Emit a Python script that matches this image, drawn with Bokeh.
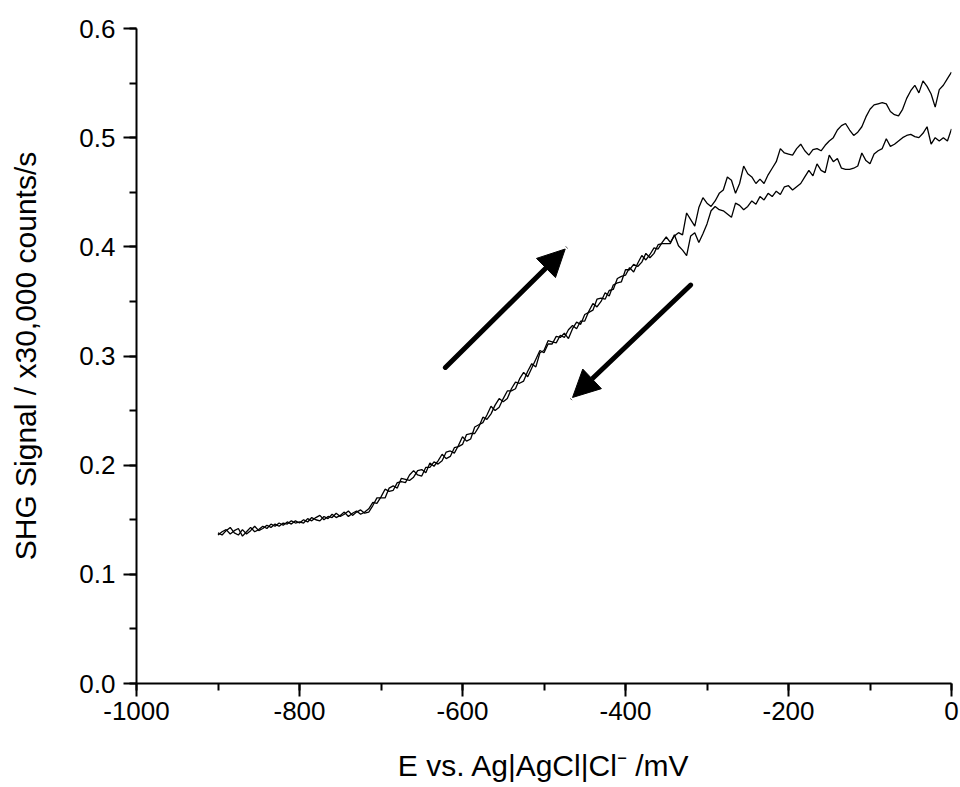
from bokeh.plotting import figure
from bokeh.models import (Range1d, FixedTicker, PrintfTickFormatter, Arrow,
                          NormalHead, ColumnDataSource)
from bokeh.embed import file_html
from bokeh.resources import INLINE

# ---------------- data ----------------
potential_mV = [
    -900, -895, -890, -885, -880, -875, -870, -865, -860, -855,
    -850, -845, -840, -835, -830, -825, -820, -815, -810, -805,
    -800, -795, -790, -785, -780, -775, -770, -765, -760, -755,
    -750, -745, -740, -735, -730, -725, -720, -715, -710, -705,
    -700, -695, -690, -685, -680, -675, -670, -665, -660, -655,
    -650, -645, -640, -635, -630, -625, -620, -615, -610, -605,
    -600, -595, -590, -585, -580, -575, -570, -565, -560, -555,
    -550, -545, -540, -535, -530, -525, -520, -515, -510, -505,
    -500, -495, -490, -485, -480, -475, -470, -465, -460, -455,
    -450, -445, -440, -435, -430, -425, -420, -415, -410, -405,
    -400, -395, -390, -385, -380, -375, -370, -365, -360, -355,
    -350, -345, -340, -335, -330, -325, -320, -315, -310, -305,
    -300, -295, -290, -285, -280, -275, -270, -265, -260, -255,
    -250, -245, -240, -235, -230, -225, -220, -215, -210, -205,
    -200, -195, -190, -185, -180, -175, -170, -165, -160, -155,
    -150, -145, -140, -135, -130, -125, -120, -115, -110, -105,
    -100, -95, -90, -85, -80, -75, -70, -65, -60, -55,
    -50, -45, -40, -35, -30, -25, -20, -15, -10, -5,
    0,
]

shg_forward = [
    0.136, 0.139, 0.141, 0.137, 0.140, 0.142, 0.135, 0.139, 0.143, 0.139,
    0.141, 0.144, 0.142, 0.146, 0.144, 0.147, 0.145, 0.148, 0.146, 0.149,
    0.147, 0.150, 0.148, 0.152, 0.150, 0.149, 0.153, 0.151, 0.155, 0.152,
    0.154, 0.157, 0.153, 0.156, 0.158, 0.155, 0.157, 0.160, 0.166, 0.165,
    0.171, 0.178, 0.176, 0.177, 0.184, 0.185, 0.184, 0.191, 0.195, 0.191,
    0.190, 0.198, 0.198, 0.203, 0.201, 0.204, 0.212, 0.213, 0.211, 0.218,
    0.226, 0.222, 0.224, 0.235, 0.237, 0.239, 0.246, 0.254, 0.250, 0.253,
    0.261, 0.268, 0.268, 0.270, 0.279, 0.285, 0.281, 0.289, 0.297, 0.305,
    0.303, 0.311, 0.311, 0.318, 0.317, 0.321, 0.316, 0.325, 0.331, 0.329,
    0.338, 0.340, 0.342, 0.352, 0.353, 0.352, 0.360, 0.361, 0.371, 0.373,
    0.374, 0.381, 0.377, 0.385, 0.392, 0.388, 0.393, 0.399, 0.398, 0.404,
    0.409, 0.404, 0.410, 0.413, 0.411, 0.431, 0.425, 0.419, 0.436, 0.445,
    0.440, 0.437, 0.442, 0.449, 0.452, 0.464, 0.461, 0.449, 0.458, 0.474,
    0.467, 0.464, 0.458, 0.462, 0.458, 0.466, 0.472, 0.478, 0.490, 0.486,
    0.485, 0.484, 0.490, 0.494, 0.488, 0.484, 0.489, 0.490, 0.488, 0.493,
    0.497, 0.500, 0.507, 0.511, 0.513, 0.507, 0.502, 0.505, 0.510, 0.519,
    0.526, 0.530, 0.531, 0.532, 0.531, 0.524, 0.521, 0.520, 0.526, 0.536,
    0.543, 0.548, 0.541, 0.552, 0.547, 0.540, 0.528, 0.544, 0.548, 0.554,
    0.560,
]

shg_reverse = [
    0.138, 0.136, 0.140, 0.143, 0.138, 0.136, 0.141, 0.137, 0.140, 0.144,
    0.140, 0.142, 0.145, 0.143, 0.146, 0.144, 0.147, 0.146, 0.149, 0.147,
    0.148, 0.147, 0.151, 0.149, 0.152, 0.154, 0.150, 0.153, 0.152, 0.156,
    0.153, 0.155, 0.158, 0.154, 0.157, 0.159, 0.156, 0.157, 0.163, 0.170,
    0.170, 0.170, 0.179, 0.181, 0.179, 0.188, 0.187, 0.186, 0.189, 0.195,
    0.196, 0.193, 0.202, 0.199, 0.204, 0.210, 0.206, 0.208, 0.216, 0.217,
    0.219, 0.228, 0.229, 0.229, 0.235, 0.244, 0.242, 0.247, 0.255, 0.261,
    0.258, 0.261, 0.270, 0.276, 0.275, 0.277, 0.286, 0.293, 0.290, 0.303,
    0.305, 0.314, 0.313, 0.312, 0.319, 0.317, 0.324, 0.328, 0.325, 0.332,
    0.332, 0.341, 0.348, 0.345, 0.350, 0.358, 0.355, 0.365, 0.367, 0.368,
    0.379, 0.379, 0.384, 0.382, 0.386, 0.394, 0.390, 0.394, 0.402, 0.403,
    0.403, 0.403, 0.411, 0.401, 0.397, 0.392, 0.410, 0.413, 0.404, 0.412,
    0.421, 0.433, 0.437, 0.434, 0.433, 0.430, 0.427, 0.440, 0.438, 0.434,
    0.437, 0.442, 0.439, 0.446, 0.443, 0.449, 0.446, 0.451, 0.448, 0.455,
    0.456, 0.452, 0.455, 0.458, 0.464, 0.470, 0.465, 0.476, 0.470, 0.468,
    0.484, 0.478, 0.481, 0.472, 0.471, 0.471, 0.472, 0.474, 0.486, 0.479,
    0.476, 0.485, 0.488, 0.490, 0.499, 0.492, 0.494, 0.497, 0.500, 0.502,
    0.503, 0.501, 0.500, 0.504, 0.510, 0.494, 0.500, 0.497, 0.500, 0.497,
    0.508,
]

# sweep-direction arrows (data coordinates)
arrow_x_start = [-621, -320]
arrow_y_start = [0.2895, 0.365]
arrow_x_end = [-474, -465]
arrow_y_end = [0.398, 0.262]

x_major_ticks = [-1000, -800, -600, -400, -200, 0]
x_minor_ticks = [-1000, -900, -800, -700, -600, -500, -400, -300, -200, -100, 0]
y_major_ticks = [0.0, 0.1, 0.2, 0.3, 0.4, 0.5, 0.6]
y_minor_ticks = [0.0, 0.05, 0.1, 0.15, 0.2, 0.25, 0.3, 0.35, 0.4, 0.45, 0.5, 0.55, 0.6]

x_label = "E vs. Ag|AgCl|Cl\u207b /mV"
y_label = "SHG Signal / x30,000 counts/s"

# ---------------- figure ----------------
FONT = "Liberation Sans"

p = figure(width=960, height=787, output_backend="svg", toolbar_location=None,
           x_range=Range1d(-1000, 0), y_range=Range1d(0, 0.6),
           min_border_left=136, min_border_right=9,
           min_border_top=28, min_border_bottom=104)
p.outline_line_color = None
p.xgrid.visible = False
p.ygrid.visible = False
p.background_fill_color = "white"
p.border_fill_color = "white"

p.line(potential_mV, shg_forward, line_color="black", line_width=1.3)
p.line(potential_mV, shg_reverse, line_color="black", line_width=1.3)

arrow_src = ColumnDataSource(dict(x0=arrow_x_start, y0=arrow_y_start,
                                  x1=arrow_x_end, y1=arrow_y_end))
p.add_layout(Arrow(source=arrow_src, x_start="x0", y_start="y0",
                   x_end="x1", y_end="y1", line_width=5, line_color="black",
                   line_cap="round",
                   end=NormalHead(size=27, fill_color="black",
                                  line_color="black", line_width=1)))

p.xaxis.ticker = FixedTicker(ticks=x_major_ticks, minor_ticks=x_minor_ticks)
p.yaxis.ticker = FixedTicker(ticks=y_major_ticks, minor_ticks=y_minor_ticks)
p.xaxis.formatter = PrintfTickFormatter(format="%d")
p.yaxis.formatter = PrintfTickFormatter(format="%.1f")

for ax in (p.xaxis[0], p.yaxis[0]):
    ax.axis_line_width = 2
    ax.axis_line_color = "black"
    ax.major_tick_line_width = 2
    ax.minor_tick_line_width = 2
    ax.major_tick_line_color = "black"
    ax.minor_tick_line_color = "black"
    ax.major_tick_in = 0
    ax.major_tick_out = 13
    ax.minor_tick_in = 0
    ax.minor_tick_out = 7
    ax.major_label_text_font = FONT
    ax.major_label_text_font_size = "26px"
    ax.major_label_text_color = "black"
    ax.axis_label_text_font = FONT
    ax.axis_label_text_font_size = "30px"
    ax.axis_label_text_font_style = "normal"
    ax.axis_label_text_color = "black"

p.xaxis.axis_label = x_label
p.yaxis.axis_label = y_label
p.xaxis.major_label_standoff = 5
p.yaxis.major_label_standoff = 8
p.xaxis.axis_label_standoff = 26
p.yaxis.axis_label_standoff = 34

open("out.html", "w").write(file_html(p, INLINE))
